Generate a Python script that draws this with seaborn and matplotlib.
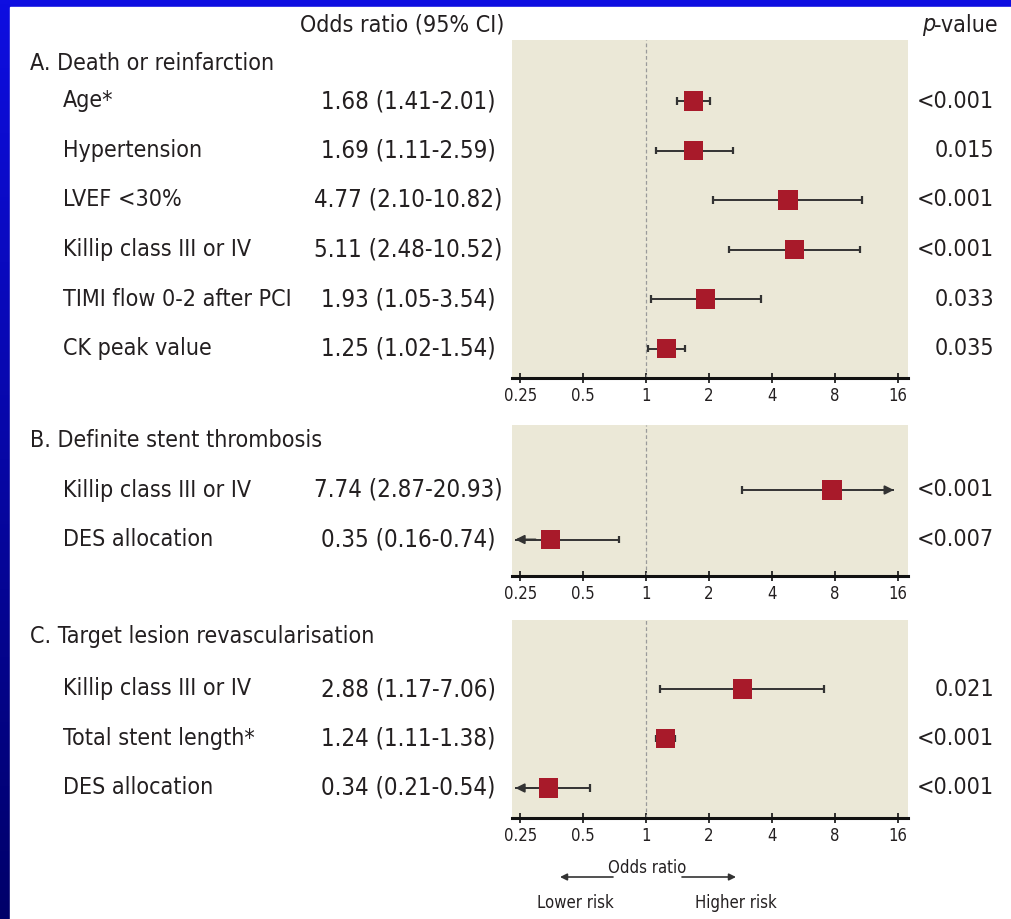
import numpy as np
import pandas as pd
import matplotlib
matplotlib.use("Agg")
import matplotlib.pyplot as plt
import seaborn as sns
from matplotlib.patches import Rectangle, FancyArrowPatch

# ---------------- data ----------------
section_titles = ["A. Death or reinfarction",
                  "B. Definite stent thrombosis",
                  "C. Target lesion revascularisation"]

a_labels = ["Age*", "Hypertension", "LVEF <30%", "Killip class III or IV",
            "TIMI flow 0-2 after PCI", "CK peak value"]
a_or = [1.68, 1.69, 4.77, 5.11, 1.93, 1.25]
a_lo = [1.41, 1.11, 2.10, 2.48, 1.05, 1.02]
a_hi = [2.01, 2.59, 10.82, 10.52, 3.54, 1.54]
a_p = ["<0.001", "0.015", "<0.001", "<0.001", "0.033", "0.035"]

b_labels = ["Killip class III or IV", "DES allocation"]
b_or = [7.74, 0.35]
b_lo = [2.87, 0.16]
b_hi = [20.93, 0.74]
b_p = ["<0.001", "<0.007"]

c_labels = ["Killip class III or IV", "Total stent length*", "DES allocation"]
c_or = [2.88, 1.24, 0.34]
c_lo = [1.17, 1.11, 0.21]
c_hi = [7.06, 1.38, 0.54]
c_p = ["0.021", "<0.001", "<0.001"]

tick_values = [0.25, 0.5, 1, 2, 4, 8, 16]
tick_labels = ["0.25", "0.5", "1", "2", "4", "8", "16"]

# ---------------- style ----------------
sns.set_style("white")
plt.rcParams['font.family'] = ['DejaVu Sans']
plt.rcParams['font.stretch'] = 'condensed'

W, H = 1011, 919
fig = plt.figure(figsize=(W / 100, H / 100), dpi=100)

TXT = "#231f20"
PANEL_BG = "#ebe8d7"
RED = "#a81a2a"
LINE = "#333333"
FS = 16.7
OR_FS = 17.2
TICK_FS = 12
SMALL_FS = 12

# background: blue gradient frame + white page
bg = fig.add_axes([0, 0, 1, 1], zorder=-10)
grad = np.linspace(0, 1, 256)[:, None]
top_c = np.array([14, 14, 225]) / 255
bot_c = np.array([0, 0, 105]) / 255
img = top_c[None, None, :] * (1 - grad[:, :, None]) + bot_c[None, None, :] * grad[:, :, None]
bg.imshow(img, aspect='auto', extent=[0, 1, 0, 1])
bg.add_patch(Rectangle((10 / W, 0), 1, (H - 7) / H, color='white'))
bg.set_xlim(0, 1); bg.set_ylim(0, 1)
bg.axis('off')


def fx(x):
    return x / W


def fy(y):
    return 1 - y / H


def ftext(x, y, s, **kw):
    kw.setdefault('color', TXT)
    kw.setdefault('fontsize', FS)
    kw.setdefault('va', 'center')
    kw.setdefault('fontstretch', 'condensed')
    return fig.text(fx(x), fy(y), s, **kw)


# headers
ftext(402, 25, "Odds ratio (95% CI)", ha='center')
val_txt = ftext(998, 25, "-value", ha='right')
renderer = fig.canvas.get_renderer()
val_left = val_txt.get_window_extent(renderer).x0
ftext(val_left + 0.5, 25, "p", ha='right', style='italic')

ROW_SP = 49.5
PANEL_L, PANEL_R = 512, 908
CLIP_LO, CLIP_HI = 0.237, 15.3

panels = [
    dict(title=section_titles[0], labels=a_labels, orv=a_or, lo=a_lo, hi=a_hi, p=a_p,
         top=40, bottom=378, first=101, title_y=63),
    dict(title=section_titles[1], labels=b_labels, orv=b_or, lo=b_lo, hi=b_hi, p=b_p,
         top=425, bottom=576, first=490, title_y=440),
    dict(title=section_titles[2], labels=c_labels, orv=c_or, lo=c_lo, hi=c_hi, p=c_p,
         top=620, bottom=818, first=689, title_y=637),
]

for pnl in panels:
    ax = fig.add_axes([fx(PANEL_L), fy(pnl['bottom']),
                       (PANEL_R - PANEL_L) / W, (pnl['bottom'] - pnl['top']) / H])
    ax.set_facecolor(PANEL_BG)
    ax.set_xscale('log', base=2)
    ax.set_xlim(2 ** -2.13, 2 ** 4.16)
    y_top = (pnl['top'] - pnl['first']) / ROW_SP
    y_bot = (pnl['bottom'] - pnl['first']) / ROW_SP
    ax.set_ylim(y_bot, y_top)

    df = pd.DataFrame(dict(label=pnl['labels'], orv=pnl['orv'], lo=pnl['lo'],
                           hi=pnl['hi'], p=pnl['p']))
    df['row'] = np.arange(len(df))

    ax.axvline(1, color='#9a9a9a', lw=0.9, ls=(0, (3, 2)), zorder=1)

    for _, r in df.iterrows():
        lo_d = max(r.lo, CLIP_LO)
        hi_d = min(r.hi, CLIP_HI)
        ax.hlines(r.row, lo_d, hi_d, color=LINE, lw=1.4, zorder=2)
        if r.lo >= CLIP_LO:
            ax.vlines(r.lo, r.row - 0.08, r.row + 0.08, color=LINE, lw=1.6, zorder=2)
        else:
            ax.annotate('', xy=(CLIP_LO, r.row), xytext=(CLIP_LO * 1.25, r.row),
                        arrowprops=dict(arrowstyle='-|>', color=LINE, lw=1.4,
                                        mutation_scale=13, shrinkA=0, shrinkB=0))
        if r.hi <= CLIP_HI:
            ax.vlines(r.hi, r.row - 0.08, r.row + 0.08, color=LINE, lw=1.6, zorder=2)
        else:
            ax.annotate('', xy=(CLIP_HI, r.row), xytext=(CLIP_HI / 1.25, r.row),
                        arrowprops=dict(arrowstyle='-|>', color=LINE, lw=1.4,
                                        mutation_scale=13, shrinkA=0, shrinkB=0))

    sns.scatterplot(data=df, x='orv', y='row', marker='s', s=190, color=RED,
                    edgecolor='none', linewidth=0, zorder=3, legend=False, ax=ax)

    for sp in ['top', 'left', 'right']:
        ax.spines[sp].set_visible(False)
    ax.spines['bottom'].set_color('#111111')
    ax.spines['bottom'].set_linewidth(2.2)
    ax.set_xticks(tick_values)
    ax.set_xticklabels(tick_labels, fontstretch='condensed')
    ax.minorticks_off()
    ax.tick_params(axis='x', direction='inout', length=7, width=1.2, color='#111111',
                   labelsize=TICK_FS, labelcolor=TXT, pad=3, bottom=True)
    ax.set_yticks([])
    ax.set_xlabel('')
    ax.set_ylabel('')

    # texts
    ftext(30, pnl['title_y'], pnl['title'], ha='left')
    for _, r in df.iterrows():
        ypx = pnl['first'] + r.row * ROW_SP
        ftext(63, ypx, r.label, ha='left')
        ftext(408, ypx, f"{r.orv:.2f} ({r.lo:.2f}-{r.hi:.2f})", ha='center', fontsize=OR_FS)
        ftext(994, ypx, r.p, ha='right')

# bottom legend
ftext(647, 868, "Odds ratio", ha='center', fontsize=SMALL_FS)
for x0, x1 in [(613, 560), (682, 736)]:
    fig.add_artist(FancyArrowPatch((fx(x0), fy(877)), (fx(x1), fy(877)),
                                   transform=fig.transFigure, arrowstyle='-|>',
                                   mutation_scale=10, color=LINE, lw=1.2,
                                   shrinkA=0, shrinkB=0))
ftext(575, 903, "Lower risk", ha='center', fontsize=SMALL_FS)
ftext(736, 903, "Higher risk", ha='center', fontsize=SMALL_FS)

fig.savefig("out.png", dpi=100)
